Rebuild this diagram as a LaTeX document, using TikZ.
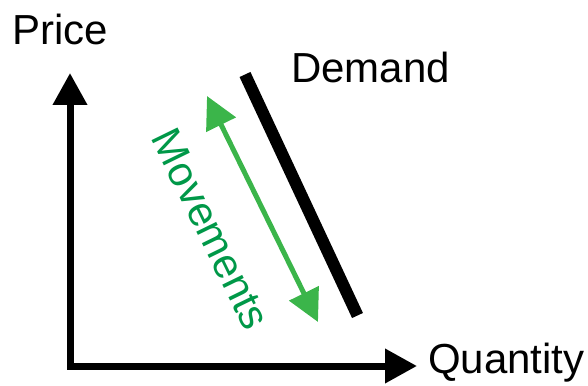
\documentclass[tikz,border=0pt]{standalone}
\usepackage{fontspec}
\setmainfont{Liberation Sans}
\usetikzlibrary{arrows.meta}
\definecolor{arrowgreen}{RGB}{59,181,74}
\definecolor{textgreen}{RGB}{0,152,72}
\tikzset{
  lbl/.style={inner sep=0pt, font=\fontsize{42}{50}\selectfont},
  axis/.style={line width=7pt, line join=miter, {Triangle[width=33pt,length=32pt]}-{Triangle[width=33pt,length=32pt]}},
  demandline/.style={line width=12pt},
  move/.style={arrowgreen, line width=5pt, {Triangle[width=32pt,length=32pt]}-{Triangle[width=32pt,length=32pt]}}
}
\begin{document}
\begin{tikzpicture}[x=1pt,y=-1pt]
\useasboundingbox (0,0) rectangle (588,385);
\coordinate (ytop) at (70,73);
\coordinate (origin) at (70,366);
\coordinate (xend) at (417,366);
\draw[axis] (ytop) -- (origin) -- (xend);
\node[lbl, anchor=base west] (price) at (12,45) {Price};
\node[lbl, anchor=base west] (quantity) at (428,373) {Quantity};
\coordinate (d1) at (245,74.5);
\coordinate (d2) at (357.5,315.5);
\draw[demandline] (d1) -- (d2);
\node[lbl, anchor=base west] (demand) at (291,83) {Demand};
\coordinate (m1) at (207,96);
\coordinate (m2) at (318,322);
\draw[move] (m1) -- (m2);
\node[lbl, text=textgreen, rotate=-64] (movements) at (211,229) {Movements};
\end{tikzpicture}
\end{document}
